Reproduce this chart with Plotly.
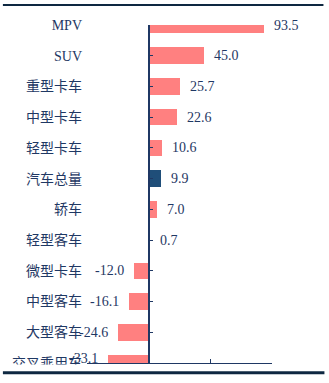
import plotly.graph_objects as go

# Year-on-year growth by vehicle segment (%)
categories = ["MPV", "SUV", "重型卡车", "中型卡车", "轻型卡车", "汽车总量",
              "轿车", "轻型客车", "微型卡车", "中型客车", "大型客车", "交叉乘用车"]
growth = [93.5, 45.0, 25.7, 22.6, 10.6, 9.9, 7.0, 0.7, -12.0, -16.1, -24.6, -33.1]
highlight = "汽车总量"
x_ticks = [-50, 0, 50, 100]

NAVY = "#1f3864"
SALMON = "#ff8080"
TOTAL = "#1f4e79"
FONT = "Liberation Serif, Noto Sans CJK SC, serif"

W, H = 329, 383
ML, MR, MT, MB = 85, 57, 24.5, 12

colors = [TOTAL if c == highlight else SALMON for c in categories]
n = len(categories)

fig = go.Figure()
fig.add_trace(go.Bar(
    x=growth, y=categories, orientation="h",
    marker=dict(color=colors, line=dict(width=0)),
    width=0.54, hoverinfo="skip", cliponaxis=True,
))
# invisible carrier so the zero axis (yaxis2) is drawn
fig.add_trace(go.Scatter(
    x=[0] * n, y=list(range(n)), yaxis="y2", mode="markers",
    marker=dict(opacity=0), hoverinfo="skip",
))

# value labels beside each bar
for i, (c, v) in enumerate(zip(categories, growth)):
    fig.add_annotation(
        x=v, y=c, xref="x", yref="y",
        text=f"{v:.1f}", showarrow=False,
        xanchor="left" if v >= 0 else "right",
        xshift=8 if v >= 0 else -8,
        yshift=5 if i == n - 1 else 0,
        font=dict(family=FONT, size=14, color=NAVY),
    )

fig.update_layout(
    width=W, height=H,
    margin=dict(l=ML, r=MR, t=MT, b=MB),
    paper_bgcolor="white", plot_bgcolor="white",
    showlegend=False, bargap=0,
    font=dict(family=FONT, size=13.5, color=NAVY),
    xaxis=dict(
        range=[x_ticks[0], x_ticks[-1]], tickvals=x_ticks,
        showticklabels=False, ticks="inside", ticklen=4,
        tickcolor=NAVY, tickwidth=1.3,
        showline=True, linecolor=NAVY, linewidth=1.3,
        showgrid=False, zeroline=False, fixedrange=True,
    ),
    yaxis=dict(
        type="category", categoryarray=categories,
        range=[n - 1, 0], showline=False, ticks="",
        showgrid=False, zeroline=False, ticklabelstandoff=4,
        tickfont=dict(family=FONT, size=14, color=NAVY),
    ),
    # vertical axis at zero with category tick marks
    yaxis2=dict(
        overlaying="y", anchor="free",
        position=(0 - x_ticks[0]) / (x_ticks[-1] - x_ticks[0]),
        type="linear", range=[n - 1, 0], tickvals=list(range(n)),
        showticklabels=False, ticks="inside", ticklen=4,
        tickcolor=NAVY, tickwidth=1.3,
        showline=True, linecolor=NAVY, linewidth=1.5,
        showgrid=False, zeroline=False,
    ),
    shapes=[
        # white band below the plot area and frame rules
        dict(type="rect", xref="paper", yref="paper", layer="above",
             x0=-ML / (W - ML - MR), x1=1 + MR / (W - ML - MR),
             y0=-(MB - 0.5) / (H - MT - MB), y1=-1.5 / (H - MT - MB),
             fillcolor="white", line=dict(width=0)),
        dict(type="line", xref="paper", yref="paper", layer="above",
             x0=-ML / (W - ML - MR), x1=(324 - ML) / (W - ML - MR),
             y0=1 + (MT - 4) / (H - MT - MB), y1=1 + (MT - 4) / (H - MT - MB),
             line=dict(color="#0e2841", width=2.2)),
        dict(type="line", xref="paper", yref="paper", layer="above",
             x0=-ML / (W - ML - MR), x1=(325 - ML) / (W - ML - MR),
             y0=-(MB - 2) / (H - MT - MB), y1=-(MB - 2) / (H - MT - MB),
             line=dict(color="#0e2841", width=3)),
    ],
)

fig.write_html("out.html")
